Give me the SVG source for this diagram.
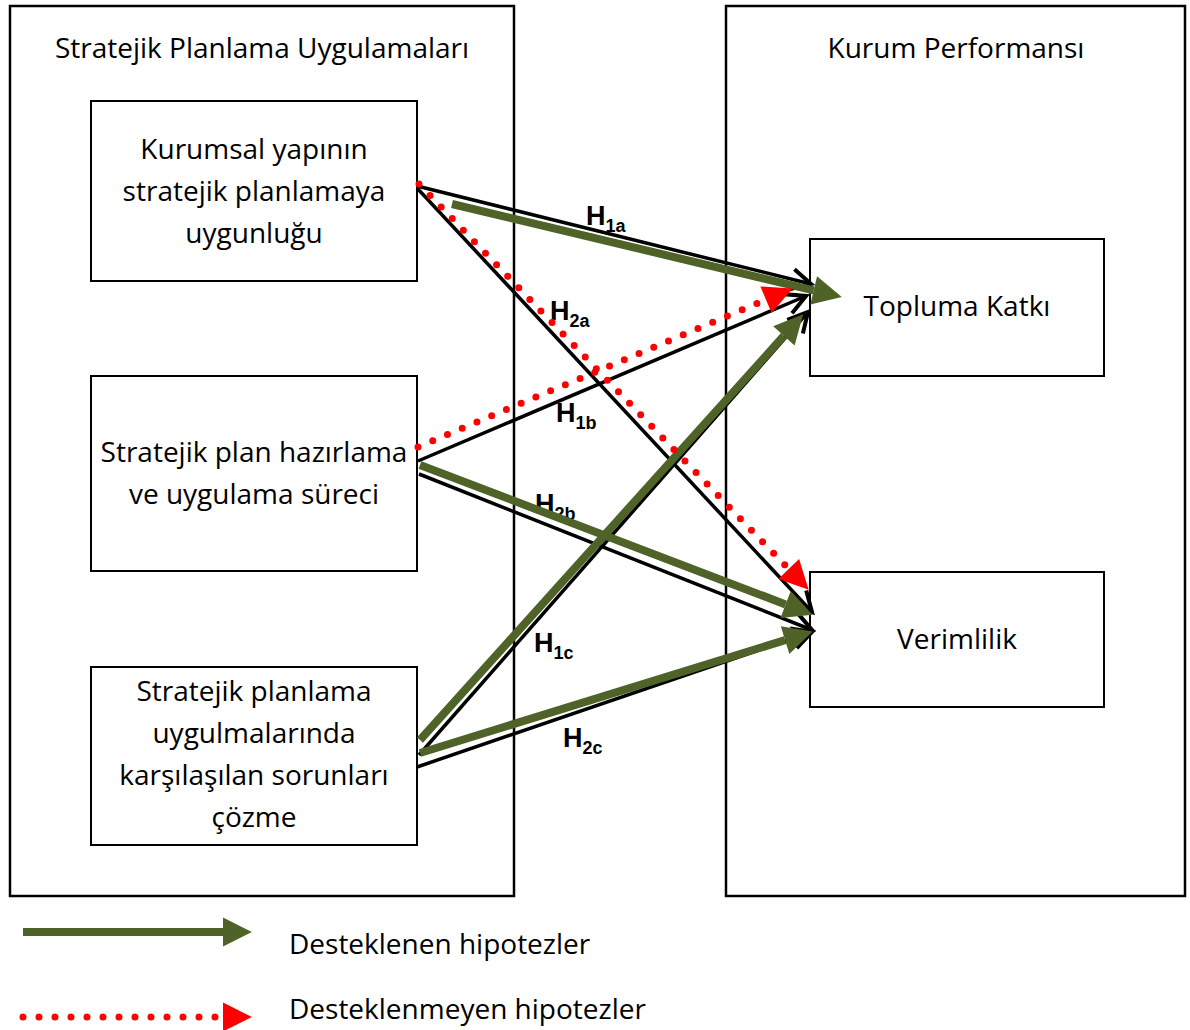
<svg xmlns="http://www.w3.org/2000/svg" width="1190" height="1030" viewBox="0 0 1190 1030">
<style>
  .frame{fill:none;stroke:#000;stroke-width:2.5}
  .box{fill:#fff;stroke:#000;stroke-width:2}
  .t{font-family:"Open Sans","Liberation Sans",sans-serif;font-size:28px;fill:#000;text-anchor:middle}
  .lt{font-family:"Open Sans","Liberation Sans",sans-serif;font-size:28px;fill:#000}
  .h{font-family:"Liberation Sans",Arial,sans-serif;font-size:27px;font-weight:bold;fill:#000}
  .sub{font-size:18px}
  .blk{fill:none;stroke:#000;stroke-width:3.5;marker-end:url(#vb)}
  .grn{fill:none;stroke:#4F6228;stroke-width:8;marker-end:url(#tg)}
  .red{fill:none;stroke:#FF0000;stroke-width:7;stroke-linecap:round;stroke-dasharray:0 16;marker-end:url(#tr)}
</style>
<defs>
  <marker id="vb" markerUnits="userSpaceOnUse" markerWidth="30" markerHeight="30" viewBox="-22 -12 26 24" refX="0" refY="0" orient="auto" overflow="visible">
    <path d="M-17,-9 L0,0 L-17,9" fill="none" stroke="#000" stroke-width="3.5"/>
  </marker>
  <marker id="tg" markerUnits="userSpaceOnUse" markerWidth="30" markerHeight="30" viewBox="0 -13 26 26" refX="0" refY="0" orient="auto" overflow="visible">
    <path d="M0,-12.5 L25,0 L0,12.5 Z" fill="#4F6228"/>
  </marker>
  <marker id="tr" markerUnits="userSpaceOnUse" markerWidth="30" markerHeight="30" viewBox="0 -13 26 26" refX="0" refY="0" orient="auto" overflow="visible">
    <path d="M0,-12.5 L25,0 L0,12.5 Z" fill="#FF0000"/>
  </marker>
</defs>
<rect width="1190" height="1030" fill="#fff"/>

<g id="group-strategic">
  <rect class="frame" x="10" y="6" width="504" height="890"/>
  <text class="t" x="262" y="58">Stratejik Planlama Uygulamaları</text>
</g>
<g id="group-performance">
  <rect class="frame" x="726" y="6" width="459" height="890"/>
  <text class="t" x="956" y="58">Kurum Performansı</text>
</g>

<g id="node-kurumsal">
  <rect class="box" x="91" y="101" width="326" height="180"/>
  <text class="t" x="254" y="159">Kurumsal yapının</text>
  <text class="t" x="254" y="201">stratejik planlamaya</text>
  <text class="t" x="254" y="243">uygunluğu</text>
</g>
<g id="node-plan">
  <rect class="box" x="91" y="376" width="326" height="195"/>
  <text class="t" x="254" y="462">Stratejik plan hazırlama</text>
  <text class="t" x="254" y="504">ve uygulama süreci</text>
</g>
<g id="node-sorun">
  <rect class="box" x="91" y="667" width="326" height="178"/>
  <text class="t" x="254" y="701">Stratejik planlama</text>
  <text class="t" x="254" y="743">uygulmalarında</text>
  <text class="t" x="254" y="785">karşılaşılan sorunları</text>
  <text class="t" x="254" y="827">çözme</text>
</g>
<g id="node-topluma">
  <rect class="box" x="810" y="239" width="294" height="137"/>
  <text class="t" x="957" y="316">Topluma Katkı</text>
</g>
<g id="node-verimlilik">
  <rect class="box" x="810" y="572" width="294" height="135"/>
  <text class="t" x="957" y="649">Verimlilik</text>
</g>

<g id="labels">
  <text class="h" x="586" y="225">H<tspan class="sub" dy="7">1a</tspan></text>
  <text class="h" x="550" y="320">H<tspan class="sub" dy="7">2a</tspan></text>
  <text class="h" x="556" y="422">H<tspan class="sub" dy="7">1b</tspan></text>
  <text class="h" x="535" y="513">H<tspan class="sub" dy="7">2b</tspan></text>
  <text class="h" x="534" y="652">H<tspan class="sub" dy="7">1c</tspan></text>
  <text class="h" x="563" y="747">H<tspan class="sub" dy="7">2c</tspan></text>
</g>

<g id="connectors">
  <path class="blk" d="M417,186 L811,284"/>
  <path class="blk" d="M417,188 L812,612"/>
  <path class="blk" d="M418,461 L806,296"/>
  <path class="blk" d="M419,474 L812,630"/>
  <path class="blk" d="M419,755 L808,312"/>
  <path class="blk" d="M417,767 L812,632"/>

  <path class="grn" d="M452,204 L813.7,290.4"/>
  <path class="grn" d="M420,465 L785.6,604.4"/>
  <path class="grn" d="M420,740 L783.9,335.8"/>
  <path class="grn" d="M420,753 L785.1,640.1"/>

  <path class="red" d="M419,184 L788.7,569"/>
  <path class="red" d="M418,447 L766,299.7"/>
</g>

<g id="legend">
  <path class="grn" d="M23,932 L223,932"/>
  <path class="red" d="M23,1017 L223,1017"/>
  <text class="lt" x="289" y="954">Desteklenen hipotezler</text>
  <text class="lt" x="289" y="1019">Desteklenmeyen hipotezler</text>
</g>
</svg>
